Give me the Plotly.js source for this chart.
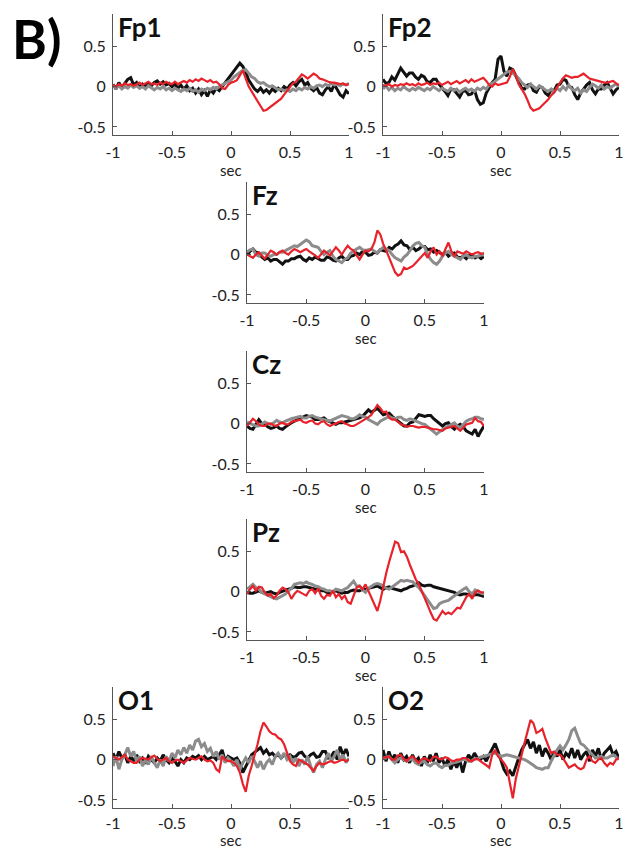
<!DOCTYPE html>
<html><head><meta charset="utf-8">
<script src="https://cdn.plot.ly/plotly-3.0.1.min.js"></script>
<style>html,body{margin:0;padding:0;background:#fff}#chart{width:637px;height:851px}</style>
</head><body><div id="chart"></div>
<script>
// time axis (sec)
const t = [-1,-0.975,-0.95,-0.925,-0.9,-0.875,-0.85,-0.825,-0.8,
-0.775,-0.75,-0.725,-0.7,-0.675,-0.65,-0.625,-0.6,-0.575,-0.55,-0.525,-0.5,
-0.475,-0.45,-0.425,-0.4,-0.375,-0.35,-0.325,-0.3,-0.275,-0.25,-0.225,-0.2,-0.175,-0.15,-0.125,-0.1,-0.075,-0.05,-0.025,
0,0.025,0.05,0.075,0.1,0.125,0.15,0.175,0.2,0.225,0.25,0.275,0.3,0.325,0.35,0.375,0.4,0.425,0.45,0.475,0.5,
0.525,0.55,0.575,0.6,0.625,0.65,0.675,0.7,0.725,0.75,0.775,0.8,0.825,0.85,0.875,0.9,0.925,0.95,0.975,1];

const channels = ['Fp1','Fp2','Fz','Cz','Pz','O1','O2'];
const xTickVals = [-1,-0.5,0,0.5,1];
const xTickText = ['-1','-0.5','0','0.5','1'];
const yTickVals = [-0.5,0,0.5];
const yTickText = ['-0.5','0','0.5'];
const xLabel = 'sec';
const panelLabel = 'B)';

// ---- Fp1 ----
const fp1Black = [0.03,-0.03,0.05,-0.02,0.04,0.09,0.11,0.02,0.05,
-0.01,0.03,0.00,0.04,0.01,0.05,0.07,0.03,0.06,0.02,0.04,0.00,
0.03,-0.02,0.02,-0.03,0.01,-0.05,-0.02,-0.08,-0.03,-0.10,-0.05,-0.12,-0.04,-0.08,-0.02,-0.05,0.00,0.04,0.10,
0.15,0.20,0.24,0.29,0.25,0.18,0.08,0.02,-0.03,-0.06,-0.02,-0.07,-0.04,-0.08,-0.03,-0.06,-0.02,-0.05,0.00,-0.03,0.02,
0.05,0.01,0.06,0.09,0.02,0.05,-0.02,-0.05,-0.01,-0.08,-0.10,-0.04,0.00,-0.06,0.03,-0.03,-0.10,-0.13,-0.05,-0.09];
const fp1Gray = [0.02,-0.02,0.01,-0.03,0.00,-0.02,0.02,-0.01,0.01,
-0.02,0.00,-0.03,0.01,-0.02,-0.04,-0.01,-0.03,0.00,-0.04,-0.02,-0.05,
-0.02,-0.04,-0.06,-0.03,-0.05,-0.02,-0.06,-0.04,-0.07,-0.03,-0.05,-0.02,-0.04,-0.01,-0.03,0.00,0.02,0.04,0.05,
0.08,0.12,0.15,0.18,0.20,0.21,0.17,0.12,0.10,0.06,0.04,0.05,0.02,0.00,0.01,-0.02,-0.04,-0.03,-0.05,-0.04,-0.06,
-0.03,-0.05,-0.02,-0.04,-0.01,-0.03,0.00,-0.02,0.01,0.02,0.00,0.03,0.01,0.04,0.02,0.03,0.01,0.03,0.02,0.04];
const fp1Red = [0.02,0.00,0.03,0.01,0.04,0.02,0.03,0.01,0.03,
0.05,0.02,0.04,0.06,0.03,0.04,0.02,0.05,0.03,0.06,0.04,0.03,
0.06,0.03,0.05,0.07,0.05,0.08,0.06,0.09,0.07,0.10,0.08,0.06,0.08,0.05,0.06,
0.03,-0.02,-0.03,0.02,0.05,0.06,0.08,0.14,0.20,
0.10,0.00,-0.06,-0.12,-0.18,-0.25,-0.30,-0.29,-0.26,-0.24,-0.20,-0.18,-0.15,-0.10,-0.05,-0.01,
0.04,0.06,0.10,0.15,0.13,0.10,0.13,0.16,0.14,0.10,0.09,0.07,0.06,0.05,0.05,0.04,0.03,0.04,0.02,0.03];

// ---- Fp2 ----
const fp2Black = [0.09,0.04,0.05,0.12,0.08,0.16,0.23,0.18,0.13,
0.17,0.17,0.12,0.09,0.14,0.12,0.06,0.05,0.09,0.09,0.03,-0.01,
-0.06,-0.11,-0.03,-0.04,-0.09,-0.13,-0.06,-0.05,-0.10,-0.09,-0.04,-0.16,-0.22,-0.20,-0.08,-0.01,0.05,0.09,0.34,
0.38,0.19,0.13,0.23,0.21,0.13,0.05,-0.02,-0.03,0.02,0.03,-0.05,-0.07,0.00,-0.01,-0.08,-0.11,-0.04,-0.05,0.02,0.03,
0.09,0.08,0.00,-0.01,-0.10,-0.16,-0.08,-0.03,0.02,0.05,-0.04,-0.09,-0.03,-0.03,0.02,0.05,-0.02,-0.09,-0.04,-0.01];
const fp2Gray = [-0.03,0.01,-0.04,-0.01,-0.05,-0.02,-0.04,0.00,-0.03,
-0.05,-0.02,-0.04,-0.01,-0.03,-0.05,-0.02,-0.04,0.00,-0.03,-0.05,-0.02,
-0.04,-0.06,-0.02,-0.05,-0.03,-0.07,-0.04,-0.02,-0.05,-0.03,-0.06,-0.02,-0.04,-0.01,-0.03,0.02,0.04,0.07,0.10,
0.12,0.15,0.18,0.19,0.17,0.14,0.10,0.05,0.02,-0.01,0.03,0.00,-0.03,0.01,-0.02,-0.04,-0.06,-0.03,-0.07,-0.02,-0.05,
0.00,-0.04,0.02,-0.03,-0.05,-0.02,-0.08,-0.04,-0.06,-0.01,0.03,0.01,-0.02,0.02,-0.03,0.00,-0.02,0.01,0.03,0.00];
const fp2Red = [0.02,0.01,0.03,0.00,0.02,0.01,0.03,0.02,0.04,
0.02,0.03,0.01,0.04,0.02,0.03,0.05,0.02,0.04,0.03,0.05,0.02,
0.04,0.06,0.03,0.05,0.07,0.04,0.06,0.08,0.05,0.09,0.06,0.08,0.10,0.11,0.07,0.02,0.00,0.04,0.02,
0.03,0.04,0.05,0.12,0.22,0.14,0.03,-0.03,-0.09,-0.17,-0.26,-0.30,-0.28,-0.27,-0.23,-0.20,-0.16,-0.11,-0.07,-0.01,0.05,
0.10,0.14,0.12,0.11,0.12,0.12,0.14,0.16,0.13,0.10,0.09,0.08,0.07,0.06,0.05,0.05,0.06,0.07,0.04,0.02];

// ---- Fz ----
const fzBlack = [-0.01,0.04,0.07,0.03,0.02,-0.03,-0.06,-0.04,-0.08,
-0.06,-0.06,-0.09,-0.12,-0.08,-0.08,-0.05,-0.05,-0.03,-0.02,-0.06,-0.08,
-0.04,-0.06,-0.03,-0.05,-0.07,-0.07,-0.03,-0.04,-0.07,-0.08,-0.04,-0.02,-0.06,-0.06,-0.02,-0.01,0.02,0.00,0.04,
0.03,-0.01,0.00,0.03,0.02,0.06,0.05,0.04,0.09,0.07,0.11,0.13,0.17,0.12,0.11,0.06,0.09,0.05,0.07,0.10,0.10,
0.06,0.07,0.03,0.05,0.02,0.00,0.03,-0.02,0.01,0.02,-0.03,-0.04,-0.02,-0.05,-0.01,0.00,-0.04,-0.02,-0.05,-0.02];
const fzGray = [0.03,0.06,0.07,0.00,-0.02,0.02,0.02,-0.01,-0.02,
0.00,0.00,0.03,0.03,0.05,0.07,0.08,0.11,0.10,0.13,0.15,0.18,
0.16,0.11,0.10,0.09,0.04,0.00,0.03,0.05,-0.02,-0.06,-0.08,-0.10,-0.06,-0.04,0.02,0.05,0.07,0.09,0.06,
0.05,0.06,0.07,0.04,0.02,0.06,0.09,0.07,0.05,0.00,-0.04,-0.06,-0.08,-0.03,0.00,0.05,0.11,0.14,0.15,0.11,0.09,
0.00,-0.06,-0.10,-0.12,-0.08,-0.02,0.02,0.04,0.00,-0.02,-0.04,-0.06,-0.02,0.00,-0.03,-0.04,-0.02,-0.02,0.00,-0.01];
const fzRed = [0.00,-0.02,-0.04,0.00,0.03,-0.01,-0.05,0.00,0.05,
0.03,0.00,0.03,0.05,0.02,0.00,0.04,0.07,0.05,0.03,0.05,0.07,
0.04,0.02,-0.01,-0.04,0.01,0.05,0.02,-0.01,0.04,0.09,0.05,0.00,0.06,0.11,0.07,0.05,-0.01,-0.06,0.00,
0.05,0.04,0.07,0.15,0.30,0.25,0.13,0.05,-0.04,-0.12,-0.22,-0.26,-0.24,-0.16,-0.18,-0.16,-0.14,-0.10,-0.06,-0.01,0.02,
-0.04,0.04,0.09,0.00,0.04,-0.02,0.07,0.15,0.04,-0.02,0.04,0.02,0.01,0.04,0.02,0.00,0.02,0.03,0.01,0.02];

// ---- Cz ----
const czBlack = [-0.03,-0.06,-0.07,-0.01,0.05,0.00,-0.01,-0.04,-0.06,
-0.05,-0.03,-0.06,-0.07,-0.04,-0.01,0.01,0.03,0.05,0.06,0.08,0.10,
0.09,0.08,0.05,0.05,0.06,0.07,0.04,0.02,0.00,-0.01,0.01,0.01,0.02,0.03,0.04,0.05,0.06,0.07,0.09,
0.13,0.17,0.14,0.16,0.19,0.15,0.11,0.12,0.13,0.09,0.06,0.02,-0.01,-0.03,-0.03,0.01,0.02,0.07,0.11,0.10,0.09,
0.10,0.10,0.06,0.03,-0.01,-0.03,0.00,0.01,-0.04,-0.07,-0.03,-0.01,-0.04,-0.09,-0.11,-0.13,-0.07,-0.16,-0.09,-0.03];
const czGray = [0.02,0.00,-0.01,-0.03,-0.03,0.00,0.02,0.00,-0.01,
0.01,0.04,0.02,0.01,0.03,0.05,0.06,0.07,0.08,0.09,0.07,0.07,
0.09,0.10,0.08,0.07,0.06,0.05,0.04,0.03,0.05,0.07,0.09,0.10,0.09,0.08,0.06,0.06,0.08,0.11,0.09,
0.08,0.05,0.03,0.01,-0.01,0.03,0.05,0.07,0.09,0.07,0.06,0.08,0.08,0.05,0.04,0.06,0.05,0.03,0.01,0.00,-0.01,
-0.04,-0.07,-0.10,-0.13,-0.10,-0.07,-0.05,-0.03,-0.01,0.01,-0.03,-0.05,-0.01,0.03,0.05,0.06,0.08,0.08,0.06,0.05];
const czRed = [-0.03,0.02,0.06,0.03,-0.01,-0.03,-0.03,0.00,0.00,
-0.02,-0.03,0.00,0.01,-0.01,-0.01,0.02,0.03,0.04,0.05,0.02,0.01,
0.03,0.04,0.00,-0.01,0.02,0.03,-0.01,-0.03,-0.01,0.00,0.02,0.03,0.00,-0.01,-0.03,-0.03,-0.01,0.01,0.03,
0.06,0.08,0.11,0.17,0.23,0.19,0.14,0.15,0.07,0.05,0.05,0.02,-0.01,-0.02,-0.04,-0.03,-0.03,-0.04,-0.05,-0.04,-0.04,
-0.05,-0.06,-0.07,-0.07,-0.08,-0.09,-0.06,-0.05,-0.04,-0.03,-0.06,-0.09,-0.05,-0.01,0.00,0.01,0.07,0.03,0.02,-0.03];

// ---- Pz ----
const pzBlack = [-0.01,-0.02,-0.02,0.00,0.01,-0.01,-0.02,-0.01,0.00,
-0.02,-0.03,-0.01,0.01,0.02,0.03,0.04,0.06,0.05,0.05,0.06,0.06,
0.05,0.04,0.03,0.02,0.01,0.01,-0.01,-0.01,0.00,0.01,-0.01,-0.02,-0.01,-0.01,0.01,0.02,0.01,0.01,0.03,
0.03,0.04,0.05,0.06,0.07,0.05,0.03,0.05,0.06,0.04,0.03,0.02,0.01,0.03,0.04,0.06,0.07,0.09,0.11,0.08,0.07,
0.08,0.08,0.06,0.05,0.04,0.03,0.02,0.01,0.00,-0.01,-0.03,-0.04,-0.03,-0.03,-0.04,-0.05,-0.04,-0.04,-0.05,-0.06];
const pzGray = [0.03,0.06,0.09,0.05,0.03,-0.01,-0.03,-0.05,-0.07,
-0.08,-0.09,-0.07,-0.05,-0.03,0.01,0.04,0.09,0.10,0.11,0.10,0.12,
0.10,0.09,0.07,0.06,0.04,0.03,0.01,0.01,0.00,0.03,0.02,0.01,0.03,0.05,0.09,0.13,0.07,0.07,0.02,
-0.01,0.04,0.07,0.09,0.10,0.09,0.07,0.04,0.03,0.06,0.09,0.12,0.14,0.13,0.14,0.13,0.12,0.08,0.05,0.00,-0.05,
-0.10,-0.15,-0.21,-0.20,-0.15,-0.13,-0.12,-0.11,-0.08,-0.05,-0.02,0.01,0.03,0.05,0.00,-0.03,0.02,0.01,-0.02,-0.03];
const pzRed = [-0.03,0.03,0.07,0.01,0.06,0.05,-0.01,-0.05,-0.03,
-0.08,-0.05,0.01,0.05,0.03,-0.01,-0.09,-0.03,0.01,-0.01,-0.03,-0.05,
0.01,0.03,-0.02,0.04,-0.05,-0.09,-0.04,-0.05,0.01,-0.07,-0.03,-0.09,-0.05,-0.13,-0.15,-0.05,0.05,0.07,0.03,
0.09,0.01,-0.07,-0.15,-0.24,-0.11,0.07,0.23,0.37,0.51,0.62,0.60,0.49,0.50,0.43,0.33,0.23,0.15,0.09,0.01,-0.09,
-0.17,-0.26,-0.34,-0.36,-0.30,-0.24,-0.28,-0.26,-0.28,-0.24,-0.20,-0.21,-0.13,-0.07,-0.03,-0.09,-0.01,0.01,-0.01,-0.01];

// ---- O1 ----
const o1Black = [0.08,0.00,0.10,0.02,0.06,-0.04,0.04,-0.02,0.06,
-0.02,0.02,-0.05,0.04,0.00,-0.04,0.02,-0.02,0.06,0.00,-0.04,0.02,
-0.02,-0.08,0.00,-0.04,0.02,0.00,0.04,0.02,0.05,0.00,0.04,0.00,0.02,0.04,0.00,0.06,0.12,-0.02,0.04,
0.02,0.00,0.02,-0.04,-0.16,-0.08,0.00,0.06,0.09,0.12,0.15,0.08,0.12,0.06,0.08,0.04,0.06,0.02,0.06,0.04,0.06,
0.03,0.04,0.08,0.09,0.04,0.02,0.06,0.08,0.03,0.04,0.10,0.10,0.02,0.04,0.10,0.00,0.16,0.06,0.13,0.04];
const o1Gray = [-0.08,0.04,-0.12,0.00,0.06,0.15,0.04,0.10,-0.02,
0.04,-0.08,0.00,-0.06,0.04,-0.04,-0.10,0.00,-0.08,0.04,-0.02,0.08,
0.02,0.12,0.06,0.15,0.08,0.18,0.12,0.23,0.25,0.16,0.20,0.10,0.14,0.04,0.10,0.00,0.06,-0.04,0.02,
-0.02,-0.08,0.00,-0.12,-0.04,0.02,-0.04,0.04,-0.02,-0.10,-0.02,-0.12,-0.04,0.00,-0.06,0.04,0.08,0.02,0.08,0.00,0.04,
-0.04,0.02,-0.08,0.00,-0.06,0.04,-0.08,-0.16,-0.06,-0.02,-0.10,0.00,0.08,-0.02,0.04,0.12,0.00,0.06,-0.04,0.02];
const o1Red = [0.04,0.02,0.00,0.03,0.06,0.00,-0.02,-0.04,-0.04,
0.00,0.02,0.01,0.00,0.03,0.05,0.01,-0.02,0.00,0.02,-0.02,-0.04,
-0.01,0.00,-0.02,-0.04,-0.01,0.02,0.01,0.00,0.02,0.04,0.00,-0.02,-0.01,-0.04,-0.12,-0.15,0.04,0.00,-0.02,
-0.02,-0.04,-0.08,-0.16,-0.30,-0.40,-0.20,-0.08,0.04,0.19,0.35,0.46,0.41,0.35,0.32,0.31,0.27,0.25,0.19,0.08,-0.02,
-0.06,-0.08,0.00,-0.02,-0.04,-0.06,-0.10,-0.14,-0.08,-0.04,-0.06,-0.05,-0.03,-0.02,-0.04,-0.03,-0.01,0.00,-0.02,0.00];

// ---- O2 ----
const o2Black = [0.12,-0.02,0.10,0.00,0.06,-0.04,0.08,0.00,0.04,
-0.04,0.06,-0.02,0.02,-0.08,0.04,-0.04,0.06,-0.02,0.08,-0.04,0.02,
-0.08,0.00,-0.12,-0.02,-0.10,0.00,-0.16,-0.02,0.06,0.00,0.08,0.02,0.00,0.04,-0.02,0.06,0.14,0.20,0.10,
0.00,-0.12,-0.18,-0.14,-0.20,-0.08,0.02,0.12,0.18,0.25,0.14,0.22,0.08,0.18,0.04,0.14,0.08,0.00,0.10,0.04,0.12,
0.00,0.08,0.04,0.14,0.02,0.12,0.00,0.06,0.10,-0.02,0.12,0.04,0.14,0.00,0.08,0.12,0.16,0.06,0.10,0.02];
const o2Gray = [0.00,0.03,0.04,0.00,-0.04,0.00,0.02,0.00,-0.02,
0.00,0.01,-0.04,-0.06,-0.03,-0.02,-0.06,-0.08,-0.05,-0.04,-0.08,-0.10,
-0.07,-0.07,-0.05,-0.04,-0.03,-0.02,0.00,0.00,-0.02,-0.02,0.01,0.01,0.03,0.04,0.05,0.06,0.07,0.08,0.06,
0.04,0.05,0.06,0.05,0.04,0.03,0.02,0.01,0.00,-0.02,-0.04,-0.07,-0.10,-0.11,-0.12,-0.10,-0.10,-0.02,0.06,0.12,0.17,
0.12,0.18,0.25,0.36,0.39,0.29,0.20,0.18,0.14,0.10,0.05,0.02,0.03,0.04,0.02,0.02,0.04,0.06,0.03,0.00];
const o2Red = [0.02,0.03,0.04,0.00,0.00,0.05,0.06,0.01,-0.02,
0.02,0.04,0.00,-0.04,0.00,0.02,0.00,-0.02,0.03,0.04,0.01,0.00,
0.03,0.02,-0.01,-0.02,0.00,0.00,0.02,0.02,-0.01,-0.02,0.00,0.01,-0.02,-0.04,-0.07,-0.10,0.06,0.12,0.04,
0.00,-0.04,-0.10,-0.30,-0.48,-0.24,-0.08,0.06,0.21,0.35,0.49,0.45,0.33,0.35,0.38,0.27,0.17,0.08,0.10,0.06,0.06,
0.02,-0.04,-0.10,-0.08,-0.06,-0.10,-0.12,-0.10,0.00,0.04,-0.02,-0.04,0.00,0.02,-0.04,-0.08,-0.04,-0.06,0.00,0.02];

const series = {
  Fp1: [fp1Black, fp1Gray, fp1Red],
  Fp2: [fp2Black, fp2Gray, fp2Red],
  Fz:  [fzBlack, fzGray, fzRed],
  Cz:  [czBlack, czGray, czRed],
  Pz:  [pzBlack, pzGray, pzRed],
  O1:  [o1Black, o1Gray, o1Red],
  O2:  [o2Black, o2Gray, o2Red]
};

// ---------- layout / styling ----------
const W = 637, H = 851;
// pixel boxes [left, right, top, bottom]
const boxes = {
  Fp1: [113, 349, 14, 135],
  Fp2: [383, 619, 14, 135],
  Fz:  [247, 484, 182, 303],
  Cz:  [247, 484, 351, 472],
  Pz:  [247, 484, 519, 640],
  O1:  [113, 349, 687, 808],
  O2:  [383, 619, 687, 808]
};
const lineStyles = [
  {color: '#111111', width: 3.0},
  {color: '#8c8c8c', width: 3.0},
  {color: '#e8222a', width: 2.2}
];
const FONT = 'Lato, "Open Sans", sans-serif';
const axisColor = '#555';

const traces = [];
const layout = {
  width: W, height: H,
  margin: {l: 0, r: 0, t: 0, b: 0},
  paper_bgcolor: '#fff', plot_bgcolor: 'rgba(0,0,0,0)',
  showlegend: false,
  font: {family: FONT, color: '#222'},
  annotations: []
};

channels.forEach((ch, i) => {
  const n = i + 1;
  const xa = n === 1 ? 'x' : 'x' + n;
  const ya = n === 1 ? 'y' : 'y' + n;
  const [l, r, tp, b] = boxes[ch];
  const bottomRow = b > 800;
  series[ch].forEach((vals, k) => {
    traces.push({
      x: t.slice(0, vals.length), y: vals, type: 'scatter', mode: 'lines',
      xaxis: xa, yaxis: ya, hoverinfo: 'skip',
      line: {color: lineStyles[k].color, width: lineStyles[k].width}
    });
  });
  layout['xaxis' + (n === 1 ? '' : n)] = {
    domain: [l / W, r / W], anchor: ya, range: [-1, 1],
    showline: true, linecolor: axisColor, linewidth: 1,
    ticks: 'inside', ticklen: 4, tickcolor: axisColor, tickwidth: 1,
    tickvals: xTickVals, ticktext: xTickText, ticklabelstandoff: bottomRow ? 1 : 3,
    tickfont: {family: FONT, size: 16, color: '#222'},
    showgrid: false, zeroline: false, fixedrange: true
  };
  layout['yaxis' + (n === 1 ? '' : n)] = {
    domain: [1 - b / H, 1 - tp / H], anchor: xa, range: [-0.6, 0.9],
    showline: true, linecolor: axisColor, linewidth: 1,
    ticks: 'inside', ticklen: 4, tickcolor: axisColor, tickwidth: 1,
    tickvals: yTickVals, ticktext: yTickText, ticklabelstandoff: 3,
    tickfont: {family: FONT, size: 16, color: '#222'},
    showgrid: false, zeroline: false, fixedrange: true
  };
  // channel title
  layout.annotations.push({
    text: '<b>' + ch + '</b>', xref: 'paper', yref: 'paper',
    x: (l + 3) / W, y: 1 - (tp + 13) / H, xanchor: 'left', yanchor: 'middle',
    showarrow: false, font: {family: FONT, size: 26, color: '#111'}
  });
  // x label
  layout.annotations.push({
    text: xLabel, xref: xa, yref: 'paper',
    x: 0, y: 1 - (b + (bottomRow ? 32 : 35)) / H, xanchor: 'center', yanchor: 'middle',
    borderpad: 0,
    showarrow: false, font: {family: FONT, size: 15, color: '#222'}
  });
});

layout.annotations.push({
  text: '<b>' + panelLabel + '</b>', xref: 'paper', yref: 'paper',
  x: 10 / W, y: 1 - 38 / H, xanchor: 'left', yanchor: 'middle',
  showarrow: false, font: {family: FONT, size: 53, color: '#000'}
});

Plotly.newPlot('chart', traces, layout, {staticPlot: true, displayModeBar: false});
</script>
</body></html>
